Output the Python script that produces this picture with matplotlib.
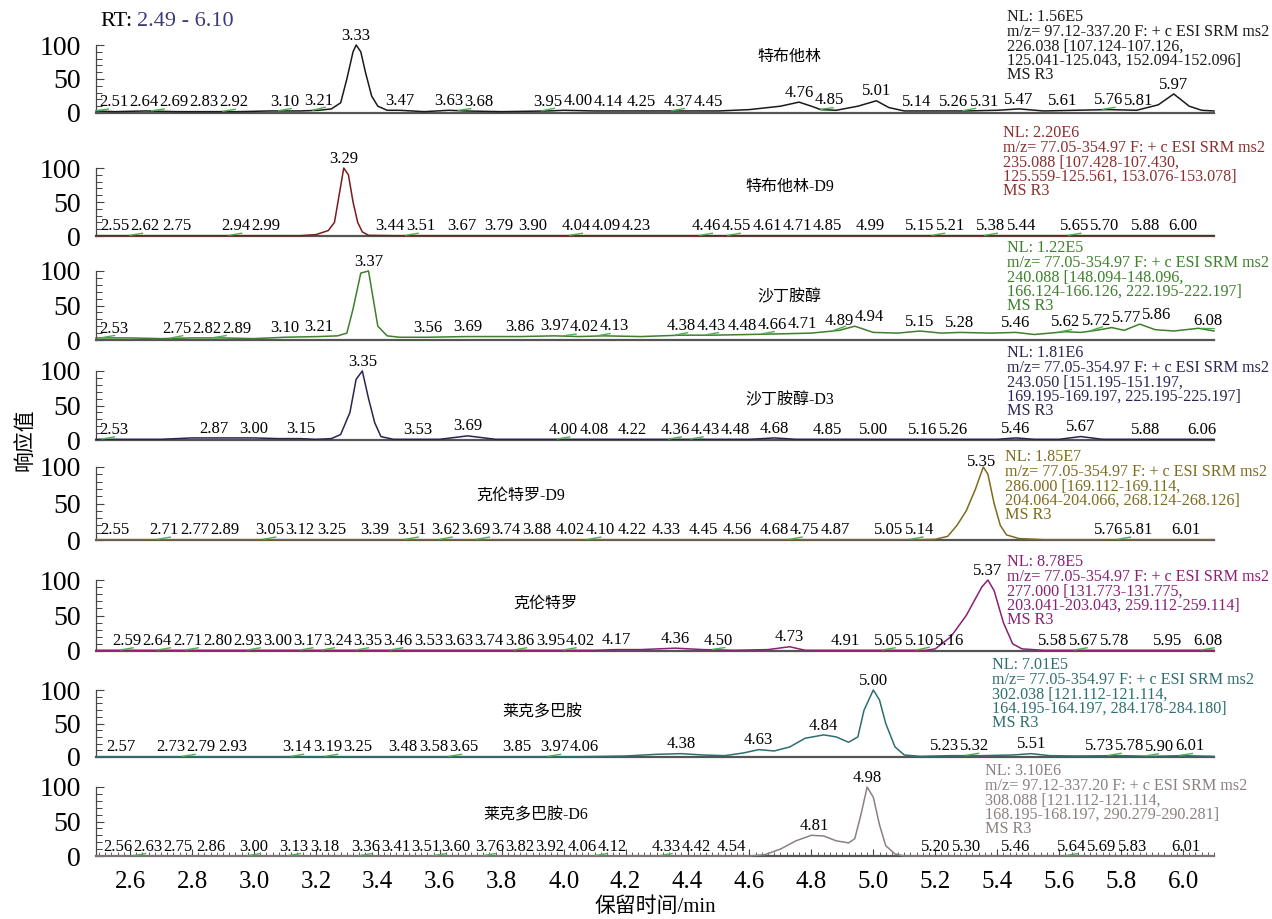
import matplotlib
matplotlib.use("Agg")
import matplotlib.pyplot as plt
from matplotlib.ticker import MultipleLocator
import numpy as np

plt.rcParams['font.family'] = ['Liberation Serif', 'Noto Sans CJK SC']

# ---- data ----
names = ['特布他林', '特布他林-D9', '沙丁胺醇', '沙丁胺醇-D3',
         '克伦特罗-D9', '克伦特罗', '莱克多巴胺', '莱克多巴胺-D6']

nl_text = ['NL: 1.56E5\nm/z= 97.12-337.20 F: + c ESI SRM ms2\n226.038 [107.124-107.126,\n125.041-125.043, 152.094-152.096]\nMS R3',
           'NL: 2.20E6\nm/z= 77.05-354.97 F: + c ESI SRM ms2\n235.088 [107.428-107.430,\n125.559-125.561, 153.076-153.078]\nMS R3',
           'NL: 1.22E5\nm/z= 77.05-354.97 F: + c ESI SRM ms2\n240.088 [148.094-148.096,\n166.124-166.126, 222.195-222.197]\nMS R3',
           'NL: 1.81E6\nm/z= 77.05-354.97 F: + c ESI SRM ms2\n243.050 [151.195-151.197,\n169.195-169.197, 225.195-225.197]\nMS R3',
           'NL: 1.85E7\nm/z= 77.05-354.97 F: + c ESI SRM ms2\n286.000 [169.112-169.114,\n204.064-204.066, 268.124-268.126]\nMS R3',
           'NL: 8.78E5\nm/z= 77.05-354.97 F: + c ESI SRM ms2\n277.000 [131.773-131.775,\n203.041-203.043, 259.112-259.114]\nMS R3',
           'NL: 7.01E5\nm/z= 77.05-354.97 F: + c ESI SRM ms2\n302.038 [121.112-121.114,\n164.195-164.197, 284.178-284.180]\nMS R3',
           'NL: 3.10E6\nm/z= 97.12-337.20 F: + c ESI SRM ms2\n308.088 [121.112-121.114,\n168.195-168.197, 290.279-290.281]\nMS R3']

p1_t = [2.49, 2.55, 2.65, 2.75, 2.85, 2.95, 3.05, 3.15, 3.21, 3.25, 3.28, 3.30, 3.32, 3.33, 3.345, 3.36, 3.38, 3.40, 3.43,
        3.47, 3.55, 3.63, 3.68, 3.80, 3.95, 4.00, 4.10, 4.20, 4.30, 4.40, 4.50, 4.60, 4.70, 4.76, 4.80, 4.83, 4.88,
        4.95, 5.01, 5.05, 5.10, 5.20, 5.30, 5.40, 5.47, 5.55, 5.65, 5.76, 5.85, 5.92, 5.97, 6.02, 6.06, 6.10]
p1_y = [3, 2, 3, 2, 2, 2, 3, 3, 4, 6, 15, 50, 90, 100, 90, 60, 25, 10, 4,
        4, 2, 4, 3, 2, 3, 4, 3, 3, 3, 3, 3, 5, 10, 16, 10, 5, 4,
        10, 18, 8, 3, 3, 3, 4, 6, 3, 4, 5, 4, 12, 28, 10, 4, 3]
p1_labels = ['2.51', '2.64', '2.69', '2.83', '2.92', '3.10', '3.21', '3.33', '3.47', '3.63', '3.68', '3.95', '4.00',
             '4.14', '4.25', '4.37', '4.45', '4.76', '4.85', '5.01', '5.14', '5.26', '5.31', '5.47', '5.61', '5.76',
             '5.81', '5.97']
p1_marks = [2.51, 2.69, 2.92, 3.10, 3.21, 3.68, 3.95, 4.37, 4.85, 5.31, 5.76]

p2_t = [2.49, 3.15, 3.20, 3.24, 3.26, 3.275, 3.29, 3.305, 3.32, 3.335, 3.35, 3.37, 3.45, 6.10]
p2_y = [0.5, 0.5, 2, 8, 20, 60, 100, 90, 50, 20, 6, 1, 0.5, 0.5]
p2_labels = ['2.55', '2.62', '2.75', '2.94', '2.99', '3.29', '3.44', '3.51', '3.67', '3.79', '3.90', '4.04', '4.09',
             '4.23', '4.46', '4.55', '4.61', '4.71', '4.85', '4.99', '5.15', '5.21', '5.38', '5.44', '5.65', '5.70',
             '5.88', '6.00']
p2_marks = [2.62, 2.94, 3.51, 4.04, 4.46, 4.55, 5.21, 5.38, 5.65]

p3_t = [2.49, 2.60, 2.70, 2.80, 2.90, 3.00, 3.10, 3.21, 3.27, 3.30, 3.32, 3.345, 3.37, 3.385, 3.40, 3.43, 3.47,
        3.56, 3.69, 3.86, 3.97, 4.05, 4.13, 4.25, 4.38, 4.48, 4.60, 4.71, 4.80, 4.89, 4.94, 5.00, 5.08, 5.15, 5.22,
        5.28, 5.38, 5.46, 5.52, 5.62, 5.67, 5.72, 5.77, 5.81, 5.86, 5.91, 5.97, 6.05, 6.10]
p3_y = [3, 3, 2, 3, 3, 2, 4, 5, 6, 10, 45, 97, 100, 60, 20, 6, 4,
        4, 5, 5, 6, 5, 6, 5, 7, 7, 8, 9, 10, 14, 20, 11, 10, 13, 10,
        11, 10, 11, 8, 12, 11, 14, 18, 14, 23, 15, 13, 17, 13]
p3_labels = ['2.53', '2.75', '2.82', '2.89', '3.10', '3.21', '3.37', '3.56', '3.69', '3.86', '3.97', '4.02', '4.13',
             '4.38', '4.43', '4.48', '4.66', '4.71', '4.89', '4.94', '5.15', '5.28', '5.46', '5.62', '5.72', '5.77',
             '5.86', '6.08']
p3_marks = [2.53, 2.75, 2.89, 4.02, 4.13, 4.38, 4.48, 4.66, 4.89, 5.62, 5.72, 6.08]

p4_t = [2.49, 2.70, 2.80, 3.00, 3.08, 3.15, 3.20, 3.25, 3.28, 3.31, 3.33, 3.35, 3.37, 3.39, 3.41, 3.45, 3.60,
        3.69, 3.78, 4.00, 4.60, 4.68, 4.75, 5.40, 5.46, 5.52, 5.60, 5.67, 5.74, 6.10]
p4_y = [1, 1, 3, 3, 2, 2, 1, 2, 8, 40, 88, 100, 60, 25, 5, 1, 1,
        6, 1, 1, 1, 3, 1, 1, 3, 1, 1, 5, 1, 1]
p4_labels = ['2.53', '2.87', '3.00', '3.15', '3.35', '3.53', '3.69', '4.00', '4.08', '4.22', '4.36', '4.43', '4.48',
             '4.68', '4.85', '5.00', '5.16', '5.26', '5.46', '5.67', '5.88', '6.06']
p4_marks = [2.53, 4.00, 4.36, 4.43]

p5_t = [2.49, 5.15, 5.20, 5.24, 5.27, 5.30, 5.33, 5.355, 5.37, 5.39, 5.41, 5.43, 5.47, 5.55, 6.10]
p5_y = [0.5, 0.5, 1, 5, 20, 40, 70, 100, 90, 50, 20, 7, 2, 0.5, 0.5]
p5_labels = ['2.55', '2.71', '2.77', '2.89', '3.05', '3.12', '3.25', '3.39', '3.51', '3.62', '3.69', '3.74', '3.88',
             '4.02', '4.10', '4.22', '4.33', '4.45', '4.56', '4.68', '4.75', '4.87', '5.05', '5.14', '5.35', '5.76',
             '5.81', '6.01']
p5_marks = [2.71, 3.05, 3.51, 3.62, 3.74, 4.10, 4.75, 5.14, 5.81]

p6_t = [2.49, 4.10, 4.17, 4.25, 4.36, 4.45, 4.55, 4.66, 4.73, 4.78, 4.85, 5.17, 5.20, 5.25, 5.30, 5.35, 5.37,
        5.39, 5.42, 5.45, 5.48, 5.55, 6.10]
p6_y = [1, 1, 2, 2, 4, 2, 1, 2, 6, 1, 1, 1, 3, 20, 50, 90, 100,
        85, 40, 10, 3, 1, 1]
p6_labels = ['2.59', '2.64', '2.71', '2.80', '2.93', '3.00', '3.17', '3.24', '3.35', '3.46', '3.53', '3.63', '3.74',
             '3.86', '3.95', '4.02', '4.17', '4.36', '4.50', '4.73', '4.91', '5.05', '5.10', '5.16', '5.37', '5.58',
             '5.67', '5.78', '5.95', '6.08']
p6_marks = [2.59, 2.71, 2.80, 3.00, 3.17, 3.24, 3.35, 3.46, 3.86, 4.02, 4.50, 5.05, 5.16, 5.67, 6.08]

p7_t = [2.49, 4.06, 4.20, 4.30, 4.38, 4.45, 4.52, 4.58, 4.63, 4.68, 4.73, 4.78, 4.84, 4.88, 4.92, 4.95, 4.97,
        5.00, 5.02, 5.04, 5.07, 5.10, 5.15, 5.25, 5.35, 5.45, 5.51, 5.57, 5.65, 5.80, 5.90, 6.00, 6.10]
p7_y = [0.5, 0.5, 1.5, 4, 5, 3, 2, 6, 11, 9, 15, 28, 33, 30, 22, 30, 70,
        100, 85, 50, 15, 3, 1, 2, 2, 3, 5, 2, 1.5, 2, 1, 2, 1]
p7_labels = ['2.57', '2.73', '2.79', '2.93', '3.14', '3.19', '3.25', '3.48', '3.58', '3.65', '3.85', '3.97', '4.06',
             '4.38', '4.63', '4.84', '5.00', '5.23', '5.32', '5.51', '5.73', '5.78', '5.90', '6.01']
p7_marks = [2.79, 3.14, 3.25, 3.65, 3.97, 5.32, 5.78, 5.90, 6.01]

p8_t = [2.49, 4.60, 4.65, 4.70, 4.75, 4.80, 4.84, 4.88, 4.92, 4.94, 4.96, 4.98, 5.00, 5.02, 5.04, 5.07, 5.10, 6.10]
p8_y = [0, 0, 2, 10, 22, 30, 29, 22, 19, 25, 60, 100, 85, 45, 15, 3, 0, 0]
p8_labels = ['2.56', '2.63', '2.75', '2.86', '3.00', '3.13', '3.18', '3.36', '3.41', '3.51', '3.60', '3.76', '3.82',
             '3.92', '4.06', '4.12', '4.33', '4.42', '4.54', '4.81', '4.98', '5.20', '5.30', '5.46', '5.64', '5.69',
             '5.83', '6.01']
p8_marks = [2.63, 3.00, 3.13, 3.36, 3.60, 3.76, 4.12, 4.33, 5.64]

traces_t = [p1_t, p2_t, p3_t, p4_t, p5_t, p6_t, p7_t, p8_t]
traces_y = [p1_y, p2_y, p3_y, p4_y, p5_y, p6_y, p7_y, p8_y]
labels = [p1_labels, p2_labels, p3_labels, p4_labels, p5_labels, p6_labels, p7_labels, p8_labels]
marks = [p1_marks, p2_marks, p3_marks, p4_marks, p5_marks, p6_marks, p7_marks, p8_marks]

# ---- layout / style ----
colors = ['#1a1a1a', '#7b1c1c', '#3d7f2b', '#2b2352', '#7d6b1e', '#8b1f75', '#2d6e6e', '#8c8080']
text_colors = ['#1a1a1a', '#8b2e2e', '#3d7f2b', '#2b2352', '#7d6b1e', '#8b1f75', '#2d6e6e', '#8c8080']
panel_px = [(45, 113), (168, 236), (271, 340), (371, 440), (467, 540), (580, 651), (690, 757), (787, 856)]
name_pos = [(4.73, 82), (4.73, 72), (4.73, 62), (4.73, 58), (3.86, 61), (3.94, 66), (3.93, 67), (3.91, 59)]
# left x and centre y of the first info line, in pixels
nl_pos = [(1007, 17), (1003, 133), (1007, 248), (1007, 353), (1005, 457), (1007, 562), (992, 665), (985, 771)]
nl_step = 14.6

W, H = 1272, 919
fig = plt.figure(figsize=(W / 100, H / 100), dpi=100)
left, right = 96, 1214

axes = []
for i in range(8):
    top, bot = panel_px[i]
    ax = fig.add_axes([left / W, 1 - bot / H, (right - left) / W, (bot - top) / H])
    axes.append(ax)
    ax.plot(traces_t[i], traces_y[i], color=colors[i], lw=1.1, clip_on=False, zorder=3)
    # small green baseline markers under some peaks
    for m in marks[i]:
        y0 = np.interp(m - 0.02, traces_t[i], traces_y[i])
        y1 = np.interp(m + 0.02, traces_t[i], traces_y[i])
        ax.plot([m - 0.02, m + 0.02], [y0 + 0.5, y1 + 3.5], color='#4caf50', lw=1.0, clip_on=False, zorder=4)
    ax.set_xlim(2.49, 6.10)
    ax.set_ylim(0, 100)
    for s in ['top', 'right']:
        ax.spines[s].set_visible(False)
    ax.spines['bottom'].set_color('#555555')
    ax.spines['bottom'].set_linewidth(1.6)
    ax.spines['left'].set_color('#444444')
    ax.spines['left'].set_linewidth(0.9)
    ax.set_yticks([0, 50, 100])
    ax.yaxis.set_minor_locator(MultipleLocator(10))
    ax.tick_params(axis='y', which='major', direction='in', length=6, width=0.8, labelsize=20, pad=11, colors='#444444', labelcolor='black')
    ax.tick_params(axis='y', which='minor', direction='in', length=4, width=0.7, colors='#444444')
    ax.patch.set_visible(False)
    if i < 7:
        ax.set_xticks([])
    else:
        ax.xaxis.set_minor_locator(MultipleLocator(0.02))
        ax.tick_params(axis='x', which='major', direction='in', length=5, width=0.8, labelsize=18, pad=11, colors='#444444', labelcolor='black')
        ax.tick_params(axis='x', which='minor', direction='in', length=3, width=0.6, colors='#444444')
        ax.set_xticks(np.arange(2.6, 6.01, 0.2))
        ax.set_xticklabels(['%.1f' % v for v in np.arange(2.6, 6.01, 0.2)])
        ax.set_xlabel('保留时间/min', fontsize=15, labelpad=3)

    # peak labels
    ann = []
    for lab in labels[i]:
        t = float(lab)
        yv = np.interp(t, traces_t[i], traces_y[i])
        a = ax.annotate(lab, xy=(t, yv), xytext=(0, 1.0), textcoords='offset points',
                        ha='center', va='bottom', fontsize=12, color='black', annotation_clip=False, zorder=5)
        ann.append(a)
    ax._ann = ann

    ax.text(name_pos[i][0], name_pos[i][1], names[i], ha='center', va='center', fontsize=11.5, color='black')
    for k, line in enumerate(nl_text[i].split('\n')):
        fig.text(nl_pos[i][0] / W, 1 - (nl_pos[i][1] + k * nl_step) / H, line, ha='left', va='center',
                 fontsize=11.6, color=text_colors[i])

fig.text(100 / W, 1 - 21 / H, 'RT:', ha='left', va='center', fontsize=16, color='black')
fig.text(137 / W, 1 - 21 / H, '2.49 - 6.10', ha='left', va='center', fontsize=16, color='#3b3b7d')
fig.text(25 / W, 1 - 440 / H, '响应值', rotation=90, ha='center', va='center', fontsize=15)

# nudge overlapping peak labels to the right, as the instrument software does
fig.canvas.draw()
r = fig.canvas.get_renderer()
for ax in axes:
    axbb = ax.get_window_extent(r)
    prev = None
    for a in sorted(ax._ann, key=lambda z: z.xy[0]):
        bb = a.get_window_extent(r)
        shift = 0
        if bb.x0 < axbb.x0 + 3:
            shift = axbb.x0 + 3 - bb.x0
        if prev is not None and bb.x0 < prev.x1 + 1 and bb.y0 < prev.y1 and bb.y1 > prev.y0:
            shift = max(shift, prev.x1 + 1 - bb.x0)
        if shift > 0:
            dx, dy = a.xyann
            a.xyann = (dx + shift * 72 / fig.dpi, dy)
            bb = a.get_window_extent(r)
        prev = bb

fig.savefig('out.png', dpi=100)
